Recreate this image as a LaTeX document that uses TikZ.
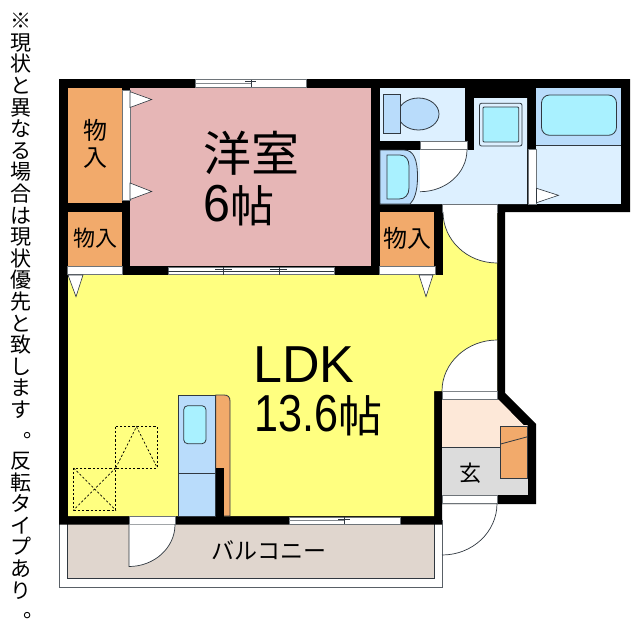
\documentclass[tikz,border=0pt]{standalone}
\usepackage{fontspec}
\setmainfont{Liberation Sans}
\newfontfamily\cjk{Noto Sans CJK JP}
\definecolor{wallc}{HTML}{000000}
\definecolor{orangec}{HTML}{F2AA6B}
\definecolor{pinkc}{HTML}{E6B6B6}
\definecolor{yellowc}{HTML}{FFFF80}
\definecolor{paleblue}{HTML}{DDF0FF}
\definecolor{midblue}{HTML}{B9DCFB}
\definecolor{cyanc}{HTML}{A9F1FF}
\definecolor{balc}{HTML}{E0D6CE}
\definecolor{peachc}{HTML}{FDE8D8}
\definecolor{greyc}{HTML}{DCDCDC}
\definecolor{linec}{HTML}{303840}
\tikzset{
  thin line/.style={draw=linec,line width=0.8pt},
  opening/.style={fill=white,draw=linec!70,line width=0.6pt},
  doorleaf/.style={fill=white,draw=linec,line width=0.7pt},
  tri/.style={fill=white,draw=linec,line width=0.6pt},
  dash line/.style={draw=black,line width=0.7pt,dash pattern=on 2.2pt off 2pt},
  label/.style={inner sep=0pt,text=black},
  cjkfont/.style={font=\fontsize{#1}{#1}\selectfont\cjk},
  notefont/.style={font=\fontsize{21}{21.6}\selectfont\cjk},
}
\newcommand{\cj}[1]{\fontsize{#1}{#1}\selectfont\cjk}
\newcommand{\maru}{\makebox[1em][l]{\hspace{.6em}\raisebox{.1em}{。}}}
\begin{document}
\begin{tikzpicture}[x=1pt,y=-1pt]
\useasboundingbox (0,0) rectangle (640,640);
\fill[white] (0,0) rectangle (640,640);

% balcony
\draw[fill=white,draw=linec!80,line width=0.9pt] (59,520) rectangle (442.7,587);
\draw[fill=balc,draw=linec,line width=0.8pt] (67.5,520) rectangle (434,578.5);

% walls
\fill[wallc] (59,79) -- (630,79) -- (630,212) -- (505,212) -- (505,393) -- (536,424) -- (536,504) -- (442,504) -- (442,524.5) -- (59,524.5) -- cycle;

% rooms
\fill[orangec] (68,87.5) rectangle (122,203);
\fill[orangec] (68,212) rectangle (122,266);
\fill[orangec] (380,212) rectangle (434,266);
\fill[pinkc] (130,87.5) rectangle (371,266);
\fill[yellowc] (68,275) -- (443,275) -- (443,212) -- (497,212) -- (497,391) -- (434,391) -- (434,516) -- (68,516) -- cycle;
\fill[paleblue] (380,87.5) rectangle (465,141);
\fill[paleblue] (380,150) -- (474,150) -- (474,98) -- (527,98) -- (527,204) -- (380,204) -- cycle;
\fill[paleblue] (536,145) rectangle (621,204);
\fill[midblue] (536,87.5) rectangle (621,145);
\draw[linec,line width=0.6pt] (536,145) -- (621,145);

% entrance
\fill[peachc] (442,399.5) -- (498.5,399.5) -- (523.5,425) -- (527.7,425) -- (527.7,447.5) -- (442,447.5) -- cycle;
\fill[greyc] (442,447.5) rectangle (527.7,495);
\draw[linec,line width=0.6pt] (442,447.5) -- (500.7,447.5);
\draw[fill=orangec,thin line] (500.7,426.7) rectangle (527.7,478.3);
\draw[linec,line width=0.8pt] (500.7,444) -- (527.7,436.7);

% wall openings
\draw[opening] (122,90) rectangle (130,200.7);
\draw[opening] (67,266.5) rectangle (122,274.5);
\draw[opening] (379,266.5) rectangle (435,274.5);
\draw[opening] (528,149) rectangle (536,204);
\draw[opening] (420,141.7) rectangle (467,149.7);
\draw[opening] (442,204) rectangle (497,212);
\draw[opening] (442,391) rectangle (497,399.7);
\draw[opening] (442,495.5) rectangle (497,503.5);
\draw[opening] (129,516) rectangle (175,524.5);

% door leaves
\path[fill=white] (420,150) -- (467,150) .. controls (467,173) and (446,191.7) .. (420,191.7) -- cycle;
\draw[linec,line width=0.7pt] (467,149.7) .. controls (467,173) and (446,191.7) .. (420,191.7);
\path[fill=white] (497,212) -- (443,212) .. controls (443,240) and (467,263) .. (497,263) -- cycle;
\draw[linec,line width=0.7pt] (443,212) .. controls (443,240) and (467,263) .. (497,263);
\path[fill=white] (497,391) -- (442,391) .. controls (442,363) and (467,340) .. (497,340) -- cycle;
\draw[linec,line width=0.7pt] (442,391) .. controls (442,363) and (467,340) .. (497,340);
\draw[linec,line width=0.7pt] (497,503.5) .. controls (497,532) and (472.5,555) .. (442,555);
\path[fill=white] (129,524.5) -- (175,524.5) .. controls (175,547.7) and (154.4,566.5) .. (129,566.5) -- cycle;
\draw[linec,line width=0.7pt] (129,524.5) -- (129,566.5) .. controls (154.4,566.5) and (175,547.7) .. (175,524.5);

% swing triangles
\draw[tri] (130,91.7) -- (151.7,99.5) -- (130,107.5) -- cycle;
\draw[tri] (130,183) -- (151.7,191.5) -- (130,199.5) -- cycle;
\draw[tri] (68,275) -- (76,296.7) -- (83,275) -- cycle;
\draw[tri] (419,275) -- (426,296.7) -- (433,275) -- cycle;
\draw[tri] (536.5,188.3) -- (558.5,195.3) -- (536.5,202.7) -- cycle;

% windows
\draw[opening] (195.5,79.5) rectangle (306,87);
\draw[linec!60,line width=0.6pt] (195.5,83.5) -- (251,83.5);
\draw[linec,line width=0.6pt] (251,79.5) -- (251,87) (245,81.5) -- (256,81.5);
\draw[opening] (168,267) rectangle (334,274.5);
\draw[linec,line width=0.6pt] (168,271) -- (334,271);
\draw[linec,line width=0.8pt] (223,267) -- (223,274.5) (279,267) -- (279,274.5) (215,269) -- (232,269) (270,269) -- (287,269);
\draw[opening] (289,517) rectangle (400,524);
\draw[linec!60,line width=0.6pt] (289,520.5) -- (344,520.5);
\draw[linec,line width=0.6pt] (344,517) -- (344,524) (338,519) -- (350,519);

% toilet
\draw[fill=midblue,thin line] (418.5,114) ellipse[x radius=20.5,y radius=16];
\draw[fill=midblue,thin line] (383.5,94.5) rectangle (400,133.7);

% wash basin
\draw[fill=midblue,thin line] (380,150) -- (404,150) .. controls (414,150) and (417.5,160) .. (417.5,177) .. controls (417.5,192) and (414,200) .. (410,204) -- (380,204) -- cycle;
\draw[fill=cyanc,thin line] (387,155) -- (400,155) .. controls (406,155) and (409,160) .. (409,166) -- (409,188) .. controls (409,195) and (405,199) .. (399,199) -- (387,199) -- cycle;

% washing machine pan
\draw[fill=paleblue,thin line,rounded corners=2pt] (479.5,103.3) rectangle (522,146);
\draw[fill=cyanc,thin line,rounded corners=1pt] (483,107) rectangle (518.7,142);

% bath tub
\draw[fill=cyanc,thin line,rounded corners=8pt] (541.5,95) rectangle (616.5,135.3);

% kitchen
\draw[fill=orangec,thin line] (215.7,395) -- (224,395) .. controls (228,395) and (230,397) .. (230,401) -- (230,516) -- (215.7,516) -- cycle;
\draw[fill=midblue,thin line] (178,395) rectangle (215.7,516);
\draw[linec,line width=0.9pt] (178,473.5) -- (215.7,473.5);
\draw[fill=cyanc,thin line,rounded corners=4pt] (183.7,405.7) rectangle (206,443.7);
\fill[wallc] (215.7,468) rectangle (224,517);

% dashed fittings
\draw[dash line] (115.7,426.7) rectangle (157.3,468);
\draw[dash line] (115.7,468) -- (136.5,426.7) -- (157.3,468);
\draw[dash line] (73.7,468) rectangle (115.7,510);
\draw[dash line] (73.7,468) -- (115.7,510) (115.7,468) -- (73.7,510);

% labels
\node[label,align=center,cjkfont=24] (clo1) at (95,144) {物\\[3pt]入};
\node[label,cjkfont=22] (clo2) at (95,238.5) {物入};
\node[label,cjkfont=24] (clo3) at (407,238.5) {物入};
\node[label,cjkfont=48] (west) at (251,153) {洋室};
\node[label,anchor=base west] (west2) at (203,221.5) {\scalebox{.93}[1]{\fontsize{52}{52}\selectfont 6}\raisebox{-.5pt}{\cj{44}帖}};
\node[label,anchor=base] (ldk) at (304,382.5) {\fontsize{52}{52}\selectfont LDK};
\node[label,anchor=base west] (ldk2) at (254,431.5) {\scalebox{.83}[1]{\fontsize{52}{52}\selectfont 13.6}\raisebox{-.5pt}{\cj{44}帖}};
\node[label,cjkfont=22] (gen) at (470.5,473.5) {玄};
\node[label,cjkfont=23] (bal) at (269,550) {バルコニー};
\node[label,anchor=north,align=center,notefont] (note1) at (21,13) {※\\現\\状\\と\\異\\な\\る\\場\\合\\は\\現\\状\\優\\先\\と\\致\\し\\ま\\す\\\maru};
\node[label,anchor=north,align=center,notefont] (note2) at (21,452) {反\\転\\タ\\イ\\プ\\あ\\り\\\maru};
\end{tikzpicture}
\end{document}
